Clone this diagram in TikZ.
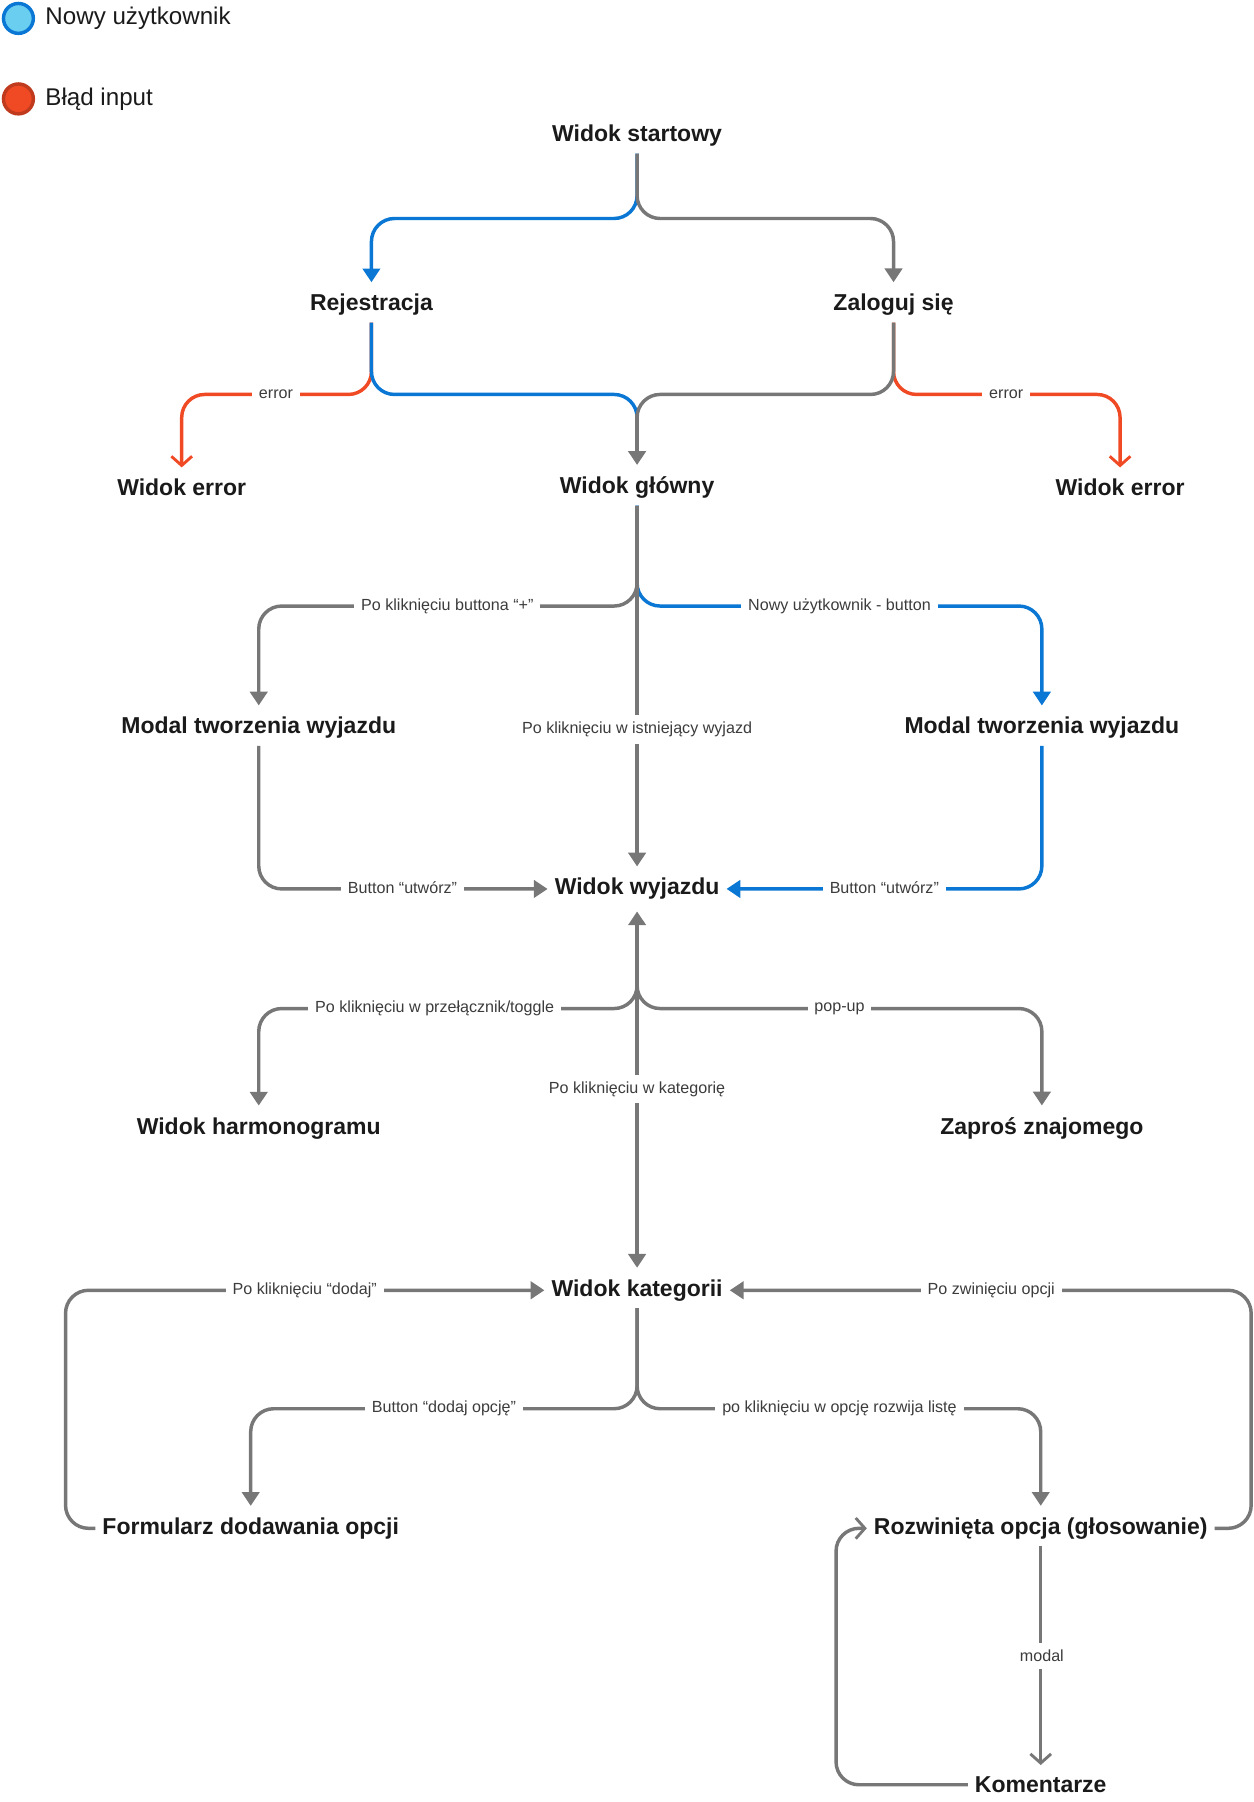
\documentclass[tikz,border=0pt]{standalone}
\usepackage{fontspec}
\setmainfont{Liberation Sans}
\usetikzlibrary{arrows.meta}
\definecolor{cb}{HTML}{0A77D4}
\definecolor{cr}{HTML}{F04A25}
\definecolor{cg}{HTML}{777777}
\definecolor{ct}{HTML}{1A1A1A}
\begin{document}
\begin{tikzpicture}[x=1pt,y=-1pt,
  t/.style={font=\fontsize{20}{23}\selectfont\bfseries,text=ct,inner sep=6pt},
  lab/.style={font=\fontsize{14}{16}\selectfont,text=ct!85,fill=white,inner sep=6pt},
  ln/.style={line width=3pt,rounded corners=20pt},
  B/.style={ln,draw=cb},R/.style={ln,draw=cr},G/.style={ln,draw=cg},
  ft/.style={-{Triangle[length=12pt,width=15pt]}},
  ot/.style={-{Straight Barb[length=8pt,width=18pt,line width=2.5pt]}}]
\useasboundingbox (0,0) rectangle (1090,1567);
% legend
\node[circle,draw=cb,line width=3pt,fill=cb!60!cyan!60,minimum size=26pt,inner sep=0] (c1) at (16,16) {};
\node[anchor=west,font=\fontsize{21}{24}\selectfont,text=ct] (l1) at (36,16) {Nowy użytkownik};
\node[circle,draw=cr!80!black,line width=3pt,fill=cr,minimum size=26pt,inner sep=0] (c2) at (16,86) {};
\node[anchor=west,font=\fontsize{21}{24}\selectfont,text=ct] (l2) at (36,86) {Błąd input};
% nodes
\node[t] (start) at (554,118) {Widok startowy};
\node[t] (rej) at (323,265) {Rejestracja};
\node[t] (zal) at (777,265) {Zaloguj się};
\node[t] (err1) at (158,424) {Widok error};
\node[t] (glow) at (554,424) {Widok główny};
\node[t] (err2) at (974,424) {Widok error};
\node[t] (mod1) at (225,633) {Modal tworzenia wyjazdu};
\node[t] (mod2) at (906,633) {Modal tworzenia wyjazdu};
\node[t] (wyj) at (554,773) {Widok wyjazdu};
\node[t] (harm) at (225,981) {Widok harmonogramu};
\node[t] (zap) at (906,981) {Zaproś znajomego};
\node[t] (kat) at (554,1122) {Widok kategorii};
\node[t] (form) at (218,1329) {Formularz dodawania opcji};
\node[t] (roz) at (905,1329) {Rozwinięta opcja (głosowanie)};
\node[t] (kom) at (905,1552) {Komentarze};
% start
\draw[B,ft] (start.south) -- (554,190) -| ([yshift=4pt]rej.north);
\draw[G,ft] (start.south) -- (554,190) -| ([yshift=4pt]zal.north);
% rejestracja / zaloguj
\draw[R,ot] (rej.south) -- (323,343) -| ([yshift=4pt]err1.north);
\draw[B] (rej.south) -- (323,343) -- (554,343) -- (554,375);
\draw[R,ot] (zal.south) -- (777,343) -| ([yshift=4pt]err2.north);
\draw[G] (zal.south) -- (777,343) -- (554,343) -- (554,375);
\draw[G,ft,rounded corners=0] (554,360) -- ([yshift=4pt]glow.north);
\node[lab] (e1) at (240,343) {error};
\node[lab] (e2) at (875,343) {error};
% glowny
\draw[G,ft] (glow.south) -- (554,527) -| ([yshift=4pt]mod1.north);
\draw[B,ft] (glow.south) -- (554,527) -| ([yshift=4pt]mod2.north);
\draw[G,ft,rounded corners=0] (glow.south) -- ([yshift=4pt]wyj.north);
\node[lab] at (389,527) {Po kliknięciu buttona “+”};
\node[lab] at (730,527) {Nowy użytkownik - button};
\node[lab] at (554,634) {Po kliknięciu w istniejący wyjazd};
% modals
\draw[G,ft] (mod1.south) |- (wyj.west);
\draw[B,ft] (mod2.south) |- (wyj.east);
\node[lab] at (350,772) {Button “utwórz”};
\node[lab] at (769,772) {Button “utwórz”};
% wyjazd
\draw[G,{Triangle[length=12pt,width=15pt]}-{Triangle[length=12pt,width=15pt]},rounded corners=0] ([yshift=-4pt]wyj.south) -- ([yshift=4pt]kat.north);
\draw[G,ft] (554,820) -- (554,877) -| ([yshift=4pt]harm.north);
\draw[G,ft] (554,820) -- (554,877) -| ([yshift=4pt]zap.north);
\node[lab] at (378,877) {Po kliknięciu w przełącznik/toggle};
\node[lab] at (730,877) {pop-up};
\node[lab] at (554,947) {Po kliknięciu w kategorię};
% kategorii
\draw[G,ft] (form.west) -- (57,1329) -- (57,1122) -- (kat.west);
\draw[G,ft] (roz.east) -- (1088,1329) -- (1088,1122) -- (kat.east);
\node[lab] at (265,1122) {Po kliknięciu “dodaj”};
\node[lab] at (862,1122) {Po zwinięciu opcji};
\draw[G,ft] (kat.south) -- (554,1225) -| ([yshift=4pt]form.north);
\draw[G,ft] (kat.south) -- (554,1225) -| ([yshift=4pt]roz.north);
\node[lab] at (386,1225) {Button “dodaj opcję”};
\node[lab] at (730,1225) {po kliknięciu w opcję rozwija listę};
% rozwinieta
\draw[G,ot,rounded corners=0] (roz.south) -- ([yshift=4pt]kom.north);
\node[lab] at (906,1440) {modal};
\draw[G,ot] (kom.west) -- (727,1552) -- (727,1329) -- (roz.west);
\end{tikzpicture}
\end{document}
